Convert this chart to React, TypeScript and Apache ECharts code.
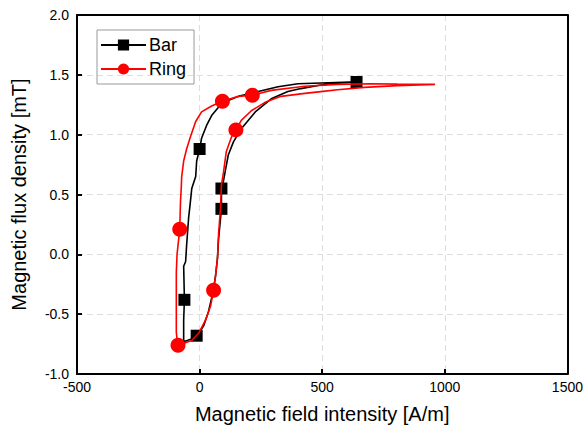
import React, { useEffect, useRef } from "react";
import * as echarts from "echarts";

// Bar sample loop: magnetic field intensity H [A/m] and flux density B [mT]
const barH = [-65, -36, -12, 16, 36, 53, 65, 73, 77, 89, 89, 97, 105, 117, 138, 170, 227, 292, 360, 413, 494, 563, 640,
  615, 494, 401, 320, 239, 158, 105, 77, 49, 28, 8, 0, -12, -16, -32, -36, -45, -53, -57, -65, -62, -65, -65];
const barB = [-0.73, -0.71, -0.68, -0.6, -0.48, -0.33, -0.18, -0.03, 0.12, 0.38, 0.55, 0.61, 0.7, 0.83, 0.94, 1.05, 1.19, 1.3, 1.36, 1.385, 1.415, 1.43, 1.44,
  1.44, 1.432, 1.425, 1.4, 1.36, 1.32, 1.275, 1.23, 1.16, 1.075, 0.97, 0.88, 0.78, 0.65, 0.55, 0.47, 0.3, 0.075, -0.06, -0.1, -0.38, -0.55, -0.73];
const barMarkers = [2, 9, 10, 22, 34, 43];

// Ring sample loop
const ringH = [-88, -61, -32, -4, 24, 45, 57, 65, 73, 77, 85, 89, 97, 109, 130, 148, 170, 211, 267, 332, 429, 494, 563, 672, 806, 960,
  806, 696, 563, 429, 292, 215, 158, 93, 49, 8, -16, -36, -53, -65, -73, -75, -78, -81, -92, -95, -95, -95, -90, -88];
const ringB = [-0.76, -0.74, -0.72, -0.66, -0.55, -0.43, -0.3, -0.18, -0.03, 0.16, 0.38, 0.58, 0.68, 0.86, 0.98, 1.04, 1.12, 1.2, 1.27, 1.32, 1.345, 1.36, 1.375, 1.395, 1.41, 1.42,
  1.422, 1.425, 1.42, 1.405, 1.37, 1.33, 1.32, 1.28, 1.24, 1.19, 1.11, 0.99, 0.88, 0.78, 0.65, 0.55, 0.44, 0.21, 0.0, -0.15, -0.4, -0.65, -0.75, -0.76];
const ringMarkers = [0, 6, 15, 31, 33, 43];

const xTicks = [-500, 0, 500, 1000, 1500];
const yTicks = [-1.0, -0.5, 0.0, 0.5, 1.0, 1.5, 2.0];

const FONT = "'Liberation Sans', Arial, sans-serif";

function buildData(h: number[], b: number[], markers: number[], sym: string) {
  return h.map((x, i) => ({
    value: [x, b[i]],
    symbol: markers.includes(i) ? sym : "none",
  }));
}

const frameAxis = {
  type: "value",
  axisLine: { show: true, onZero: false, lineStyle: { color: "#000", width: 2 } },
  axisTick: { show: false },
  axisLabel: { show: false },
  splitLine: { show: false },
};

export default function App() {
  const ref = useRef<HTMLDivElement>(null);
  useEffect(() => {
    if (!ref.current) return;
    const chart = echarts.init(ref.current, undefined, { renderer: "svg" });
    chart.setOption({
      animation: false,
      backgroundColor: "#fff",
      grid: { left: 77, right: 15, top: 15, bottom: 60 },
      legend: {
        orient: "vertical",
        left: 97,
        top: 30,
        data: ["Bar", "Ring"],
        borderColor: "#999",
        borderWidth: 1,
        padding: [6, 8, 6, 3],
        itemWidth: 45,
        itemHeight: 14,
        itemGap: 6,
        textStyle: { fontFamily: FONT, fontSize: 18, color: "#000", padding: [0, 0, 0, -2] },
      },
      xAxis: [
        {
          type: "value",
          min: xTicks[0],
          max: xTicks[xTicks.length - 1],
          interval: 500,
          name: "Magnetic field intensity [A/m]",
          nameLocation: "middle",
          nameGap: 30,
          nameTextStyle: { fontFamily: FONT, fontSize: 20, color: "#000" },
          axisLine: { show: true, onZero: false, lineStyle: { color: "#000", width: 2 } },
          axisTick: { show: true, inside: true, length: 5, lineStyle: { color: "#000", width: 2 } },
          axisLabel: { fontFamily: FONT, fontSize: 14, color: "#000", margin: 6, formatter: (v: number) => String(v) },
          splitLine: { show: true, lineStyle: { color: "#ddd", type: [6, 4], width: 1 } },
        },
        { ...frameAxis, position: "top", min: xTicks[0], max: xTicks[xTicks.length - 1] },
      ],
      yAxis: [
        {
          type: "value",
          min: yTicks[0],
          max: yTicks[yTicks.length - 1],
          interval: 0.5,
          name: "Magnetic flux density [mT]",
          nameLocation: "middle",
          nameGap: 48,
          nameTextStyle: { fontFamily: FONT, fontSize: 20, color: "#000" },
          axisLine: { show: true, onZero: false, lineStyle: { color: "#000", width: 2 } },
          axisTick: { show: true, inside: true, length: 5, lineStyle: { color: "#000", width: 2 } },
          axisLabel: { fontFamily: FONT, fontSize: 14, color: "#000", margin: 8, formatter: (v: number) => v.toFixed(1) },
          splitLine: { show: true, lineStyle: { color: "#ddd", type: [6, 4], width: 1 } },
        },
        { ...frameAxis, position: "right", min: yTicks[0], max: yTicks[yTicks.length - 1] },
      ],
      series: [
        {
          name: "Bar",
          type: "line",
          data: buildData(barH, barB, barMarkers, "rect"),
          symbol: "rect",
          symbolSize: 12,
          showSymbol: true,
          showAllSymbol: true,
          color: "#000",
          lineStyle: { color: "#000", width: 1.6 },
          itemStyle: { color: "#000" },
          z: 2,
        },
        {
          name: "Ring",
          type: "line",
          data: buildData(ringH, ringB, ringMarkers, "circle"),
          symbol: "circle",
          symbolSize: 15,
          showSymbol: true,
          showAllSymbol: true,
          color: "#f00",
          lineStyle: { color: "#f00", width: 1.6 },
          itemStyle: { color: "#f00" },
          z: 3,
        },
      ],
    });
    return () => chart.dispose();
  }, []);
  return <div ref={ref} style={{ position: "fixed", left: 0, top: 0, width: 586, height: 434 }} />;
}
